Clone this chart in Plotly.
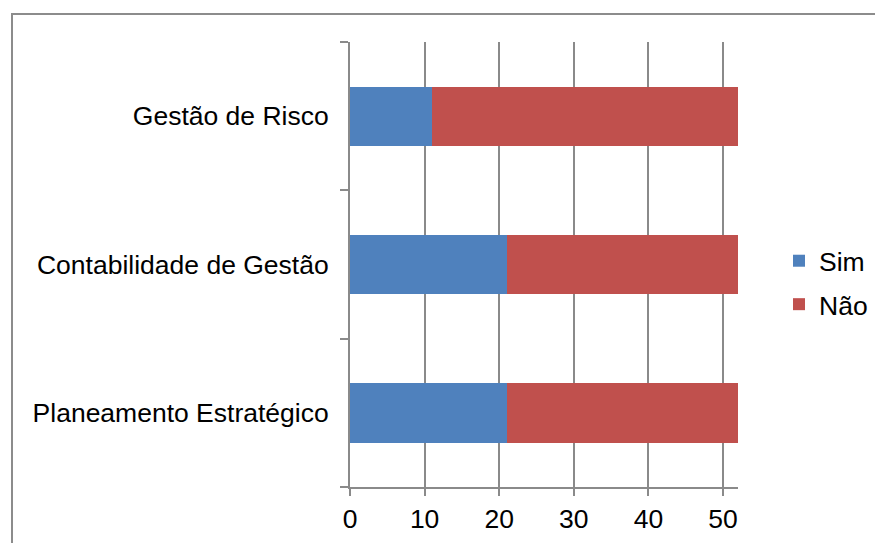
import plotly.graph_objects as go

categories = ["Planeamento Estratégico", "Contabilidade de Gestão", "Gestão de Risco"]
sim = [21, 21, 11]
nao = [31, 31, 41]
x_ticks = [0, 10, 20, 30, 40, 50]

BLUE = "#4F81BD"
RED = "#C0504D"
GRID = "#8A8A8A"
FONT = "Liberation Sans, Arial, sans-serif"

fig = go.Figure()
fig.add_trace(go.Bar(y=categories, x=sim, name="Sim", orientation="h",
                     marker=dict(color=BLUE, line=dict(width=0)), legendgroup="a"))
fig.add_trace(go.Bar(y=categories, x=nao, name="Não", orientation="h",
                     marker=dict(color=RED, line=dict(width=0)), legendgroup="b"))

W, H = 875, 543
L, R, T, B = 350, W - 738, 42, H - 487
pw, ph = W - L - R, H - T - B

def px2x(p):
    return (p - L) / pw

def py2y(p):
    return (H - B - p) / ph

fig.update_layout(
    width=W, height=H,
    margin=dict(l=L, r=R, t=T, b=B, pad=0, autoexpand=False),
    barmode="stack", bargap=0.6,
    paper_bgcolor="white", plot_bgcolor="white",
    font=dict(family=FONT, size=26.5, color="black"),
    showlegend=True,
    legend=dict(x=px2x(779), y=py2y(237), xanchor="left", yanchor="top",
                traceorder="grouped", tracegroupgap=6, itemwidth=30,
                font=dict(size=26.5), bgcolor="rgba(0,0,0,0)"),
    xaxis=dict(range=[0, 52], tickvals=x_ticks, ticks="outside", ticklen=7,
               tickwidth=2, tickcolor=GRID, showgrid=True, gridcolor=GRID,
               gridwidth=2, showline=True, linecolor=GRID, linewidth=2,
               zeroline=False, fixedrange=True),
    yaxis=dict(categoryorder="array", categoryarray=categories, range=[-0.5, 2.5],
               ticks="outside", tickson="boundaries", ticklen=8, tickwidth=2,
               tickcolor=GRID, showgrid=False, showline=True, linecolor=GRID,
               linewidth=2, zeroline=False, ticklabelstandoff=14),
    shapes=[dict(type="rect", xref="paper", yref="paper",
                 x0=px2x(12), x1=px2x(900), y0=py2y(600), y1=py2y(14),
                 line=dict(color="#8C8C8C", width=2), fillcolor="rgba(0,0,0,0)",
                 layer="below")],
)

fig.write_html("out.html")
